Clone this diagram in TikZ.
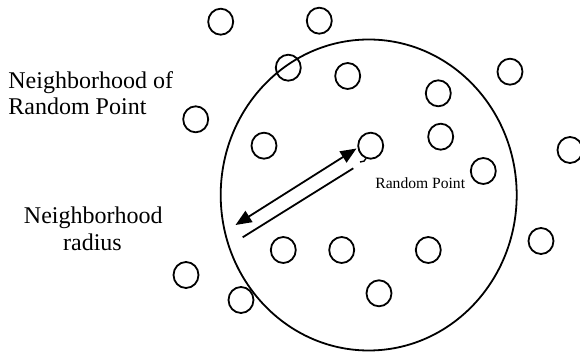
\documentclass[tikz,border=0pt]{standalone}
\usepackage{fontspec}
\setmainfont{Liberation Serif}
\usetikzlibrary{shapes.geometric,arrows.meta}
\begin{document}
\begin{tikzpicture}[x=0.5pt,y=-0.5pt,
  dot/.style={draw, ellipse, line width=0.9pt, minimum width=12.5pt, minimum height=13pt, inner sep=0pt},
  hood/.style={draw, ellipse, line width=0.9pt, minimum width=148pt, minimum height=155.5pt, inner sep=0pt},
  lbl/.style={font=\fontsize{12}{14}\selectfont, inner sep=0pt},
  smalllbl/.style={font=\fontsize{7.8}{9}\selectfont, inner sep=0pt},
  conn/.style={line width=0.9pt},
  tips/.style={{Triangle[length=8pt,width=6.5pt]}-{Triangle[length=8pt,width=6.5pt]}}]
\useasboundingbox (0,0) rectangle (580,352);
% neighbourhood
\node[hood] (hood) at (368.7,195) {};
% points
\node[dot] (p1) at (220.7,21.7) {};
\node[dot] (p2) at (319.3,20.7) {};
\node[dot] (p3) at (288.3,67.7) {};
\node[dot] (p4) at (347.7,76) {};
\node[dot] (p5) at (510,71.7) {};
\node[dot] (p6) at (438.3,93.3) {};
\node[dot] (p7) at (195.7,119.3) {};
\node[dot] (p8) at (264,145.7) {};
\node[dot] (rp) at (370.7,145.7) {};
\node[dot] (p10) at (440.7,136.7) {};
\node[dot] (p11) at (483.3,171) {};
\node[dot] (p12) at (570,150) {};
\node[dot] (p13) at (541,241) {};
\node[dot] (p14) at (283.3,250) {};
\node[dot] (p15) at (341.7,250) {};
\node[dot] (p16) at (428.3,250) {};
\node[dot] (p17) at (379,293.3) {};
\node[dot] (p18) at (186,275) {};
\node[dot] (p19) at (241,300) {};
% radius arrow
\coordinate (a1) at (235.5,225);
\coordinate (a2) at (356.5,148.5);
\draw[conn, tips] (a1) -- (a2);
\coordinate (b1) at (242.7,237.3);
\coordinate (b2) at (353.3,168.3);
\draw[conn] (b1) -- (b2);
\coordinate (h1) at (360,162);
\coordinate (h2) at (366,158.5);
\draw[line width=0.7pt] (h1) .. controls (363,162) and (365.5,161) .. (h2);
% labels
\node[lbl, anchor=base west] (t1) at (8,88.3) {Neighborhood of};
\node[lbl, anchor=base west] (t2) at (8,115) {Random Point};
\node[lbl, anchor=base] (t3) at (93.3,223.3) {Neighborhood};
\node[lbl, anchor=base] (t4) at (92.5,250.5) {radius};
\node[smalllbl, anchor=base west] (t5) at (375,188.3) {Random Point};
\end{tikzpicture}
\end{document}
